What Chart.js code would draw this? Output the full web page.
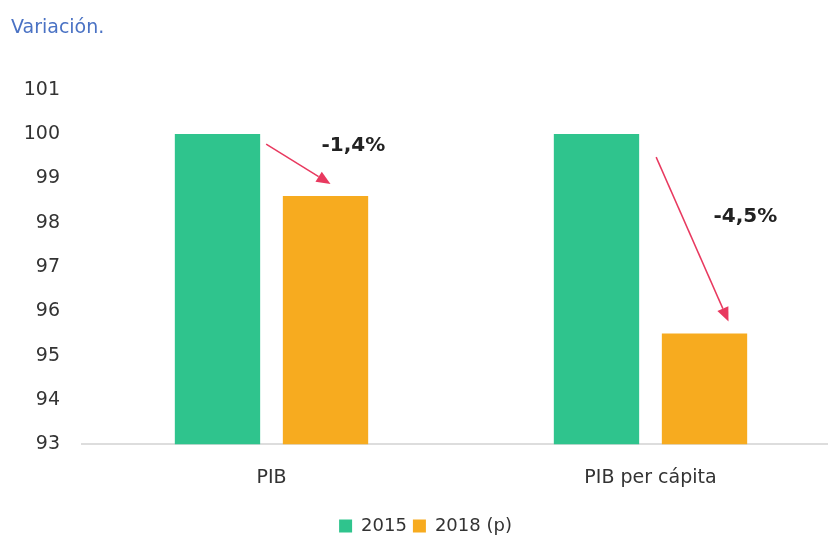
<!DOCTYPE html>
<html>
<head>
<meta charset="utf-8">
<script src="https://cdn.jsdelivr.net/npm/chart.js@4/dist/chart.umd.min.js"></script>
<style>
  html, body { margin: 0; padding: 0; background: #fff; overflow: hidden; }
  #wrap { width: 840px; height: 545px; }
</style>
</head>
<body>
<div id="wrap"><canvas id="chart"></canvas></div>
<script>
const categories = ["PIB", "PIB per cápita"];
const values2015 = [100, 100];
const values2018 = [98.6, 95.5];
const changeLabels = ["-1,4%", "-4,5%"];
const seriesNames = ["2015", "2018 (p)"];

// arrow tweaks per category: start offset from 2015 bar top-right, end offset from 2018 bar top-center
const arrowStart = [[6, 10], [17, 23]];
const arrowEnd = [[5, -12], [24, -12]];
const labelShift = [[55, -18], [53, -22]];

const arrowPlugin = {
  id: "arrows",
  afterDatasetsDraw(chart) {
    const ctx = chart.ctx;
    const m0 = chart.getDatasetMeta(0).data;
    const m1 = chart.getDatasetMeta(1).data;
    categories.forEach((c, i) => {
      const b0 = m0[i], b1 = m1[i];
      const x1 = b0.x + b0.width / 2 + arrowStart[i][0];
      const y1 = b0.y + arrowStart[i][1];
      const x2 = b1.x + arrowEnd[i][0];
      const y2 = b1.y + arrowEnd[i][1];
      const ang = Math.atan2(y2 - y1, x2 - x1);
      const head = 14, half = 6;
      ctx.save();
      ctx.strokeStyle = "#e8395f";
      ctx.fillStyle = "#e8395f";
      ctx.lineWidth = 1.5;
      ctx.beginPath();
      ctx.moveTo(x1, y1);
      ctx.lineTo(x2 - Math.cos(ang) * head, y2 - Math.sin(ang) * head);
      ctx.stroke();
      ctx.beginPath();
      ctx.moveTo(x2, y2);
      ctx.lineTo(x2 - Math.cos(ang) * head - Math.sin(ang) * half, y2 - Math.sin(ang) * head + Math.cos(ang) * half);
      ctx.lineTo(x2 - Math.cos(ang) * head + Math.sin(ang) * half, y2 - Math.sin(ang) * head - Math.cos(ang) * half);
      ctx.closePath();
      ctx.fill();
      // label
      ctx.fillStyle = "#222";
      ctx.font = "bold 20px 'DejaVu Sans', sans-serif";
      ctx.textAlign = "center";
      ctx.textBaseline = "middle";
      ctx.fillText(changeLabels[i], (x1 + x2) / 2 + labelShift[i][0], (y1 + y2) / 2 + labelShift[i][1]);
      ctx.restore();
    });
  }
};

new Chart(document.getElementById("chart"), {
  type: "bar",
  data: {
    labels: categories,
    datasets: [
      { label: seriesNames[0], data: values2015, backgroundColor: "#2fc48d" },
      { label: seriesNames[1], data: values2018, backgroundColor: "#f7ab1f" }
    ]
  },
  options: {
    responsive: true,
    maintainAspectRatio: false,
    animation: false,
    categoryPercentage: 0.57,
    barPercentage: 0.79,
    layout: { padding: { left: 11, right: 0, top: 0, bottom: 0 } },
    plugins: {
      title: {
        display: true,
        text: "Variación.",
        align: "start",
        color: "#4a72c4",
        font: { family: "'DejaVu Sans', sans-serif", size: 19, weight: "normal" },
        padding: { top: 17, bottom: 50 }
      },
      legend: {
        position: "bottom",
        labels: {
          boxWidth: 13,
          boxHeight: 13,
          color: "#333",
          padding: 6,
          font: { family: "'DejaVu Sans', sans-serif", size: 18 }
        }
      },
      tooltip: { enabled: false }
    },
    scales: {
      x: {
        grid: { display: false, drawTicks: false },
        border: { color: "#dddddd", width: 2 },
        ticks: {
          color: "#333",
          padding: 22,
          font: { family: "'DejaVu Sans', sans-serif", size: 19 }
        }
      },
      y: {
        min: 93,
        max: 101,
        afterFit: (scale) => { scale.width = 71; },
        grid: { display: false, drawTicks: false },
        border: { display: false },
        ticks: {
          stepSize: 1,
          color: "#333",
          padding: 22,
          font: { family: "'DejaVu Sans', sans-serif", size: 19 }
        }
      }
    }
  },
  plugins: [arrowPlugin]
});
</script>
</body>
</html>
